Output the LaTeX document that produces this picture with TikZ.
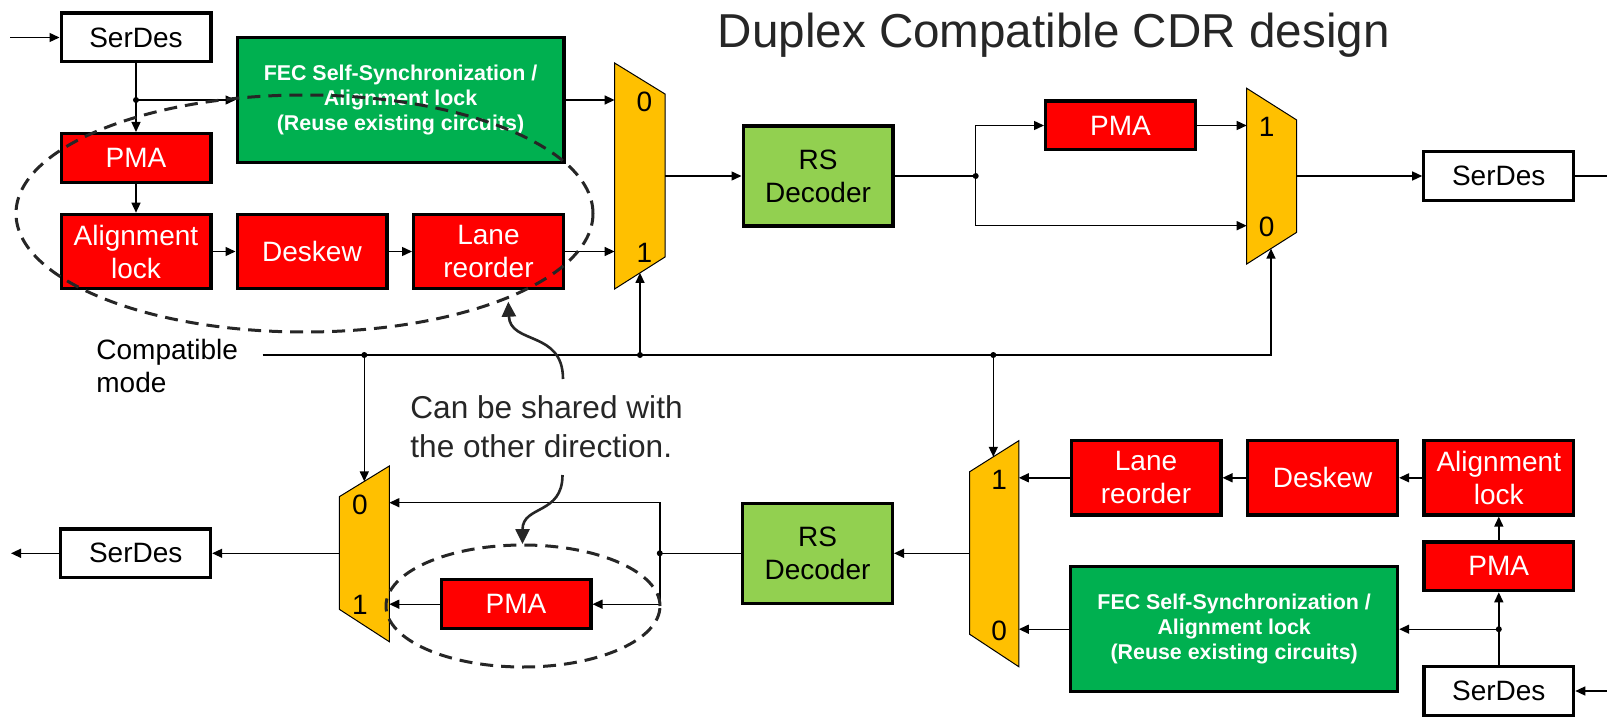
\documentclass[tikz,border=0pt]{standalone}
\usepackage{fontspec}
\setmainfont{Liberation Sans}
\usetikzlibrary{arrows.meta,calc}

\definecolor{muxyellow}{HTML}{FFC000}
\definecolor{fecgreen}{HTML}{00B050}
\definecolor{rsgreen}{HTML}{92D050}
\definecolor{pmared}{HTML}{FF0000}
\definecolor{inkgray}{HTML}{262626}

\begin{document}
\begin{tikzpicture}[x=0.5pt,y=-0.5pt,
  blk/.style={draw=black, line width=1.6pt, inner sep=0pt, align=center,
    minimum width=74.9pt, font=\fontsize{14}{16.5}\selectfont},
  lowblk/.style={minimum height=24.4pt},
  highblk/.style={minimum height=37.2pt},
  redblk/.style={blk, fill=pmared, text=white},
  serdesblk/.style={blk, lowblk, fill=white},
  rsblk/.style={blk, fill=rsgreen, minimum height=49.9pt},
  fecblk/.style={blk, fill=fecgreen, text=white, minimum width=163.4pt,
    minimum height=62.4pt, font=\fontsize{10.7}{12.5}\selectfont\bfseries},
  wire/.style={line width=0.7pt, draw=black},
  arr/.style={wire, -{Triangle[length=5pt,width=4.5pt]}},
  junc/.style={circle, fill=black, inner sep=0pt, minimum size=3pt},
  muxbody/.style={fill=muxyellow, draw=black, line width=0.5pt},
  muxlbl/.style={font=\fontsize{14}{16}\selectfont, inner sep=0pt},
  sharering/.style={draw=inkgray, line width=1.5pt, dash pattern=on 6.5pt off 4pt},
  notearrow/.style={draw=inkgray, line width=1.3pt, -{Triangle[length=7.5pt,width=7pt]}},
]
\useasboundingbox (0,0) rectangle (1607,717);

% ---------- title ----------
\node[anchor=base, inner sep=0pt, text=inkgray, font=\fontsize{23.8}{28}\selectfont]
  (title) at (1053.7,47.7) {Duplex Compatible CDR design};

% ---------- upper path (receive) ----------
\node[serdesblk] (serdes1) at (136,37.5) {SerDes};
\node[fecblk] (fec1) at (400.5,100) {FEC Self-Synchronization /\\Alignment lock\\(Reuse existing circuits)};
\node[redblk, lowblk] (pma1) at (136,158) {PMA};
\node[redblk, highblk] (align1) at (136,251.5) {Alignment\\lock};
\node[redblk, highblk] (deskew1) at (312,251.5) {Deskew};
\node[redblk, highblk] (lane1) at (488.5,251.5) {Lane\\reorder};
\node[rsblk] (rs1) at (818,176) {RS\\Decoder};
\node[redblk, lowblk] (pma2) at (1120.5,125.5) {PMA};
\node[serdesblk] (serdes2) at (1498.7,176) {SerDes};

% mux 1
\draw[muxbody] (614.6,63) -- (665,94) -- (665,257) -- (614.6,289) -- cycle;
\coordinate (m1in0) at (614.6,100);
\coordinate (m1in1) at (614.6,251.5);
\coordinate (m1out) at (665,176);
\coordinate (m1sel) at (640,272.9);
\node[muxlbl] (m1l0) at (644.5,102) {0};
\node[muxlbl] (m1l1) at (644.5,252.7) {1};

% mux 2
\draw[muxbody] (1246.7,88.3) -- (1296.7,120) -- (1296.7,232.3) -- (1246.7,264) -- cycle;
\coordinate (m2in1) at (1246.7,125.5);
\coordinate (m2in0) at (1246.7,225.7);
\coordinate (m2out) at (1296.7,176);
\coordinate (m2sel) at (1271,248.6);
\node[muxlbl] (m2l1) at (1266.7,126.5) {1};
\node[muxlbl] (m2l0) at (1266.7,226.7) {0};

% ---------- lower path (transmit) ----------
\node[serdesblk] (serdes3) at (135.7,553.3) {SerDes};
\node[redblk, lowblk] (pma3) at (516,604.2) {PMA};
\node[rsblk] (rs2) at (817.5,553.3) {RS\\Decoder};
\node[redblk, highblk] (lane2) at (1146,477.8) {Lane\\reorder};
\node[redblk, highblk] (deskew2) at (1322.6,477.8) {Deskew};
\node[redblk, highblk] (align2) at (1498.8,477.8) {Alignment\\lock};
\node[redblk, lowblk] (pma4) at (1498.8,566.3) {PMA};
\node[fecblk] (fec2) at (1234.2,629.2) {FEC Self-Synchronization /\\Alignment lock\\(Reuse existing circuits)};
\node[serdesblk] (serdes4) at (1498.8,691) {SerDes};

% mux 3
\draw[muxbody] (339.3,496.7) -- (389.3,466) -- (389.3,641.7) -- (339.3,609.3) -- cycle;
\coordinate (m3in0) at (389.3,502.7);
\coordinate (m3in1) at (389.3,604.2);
\coordinate (m3out) at (339.3,553.3);
\coordinate (m3sel) at (364.3,481.4);
\node[muxlbl] (m3l0) at (359.8,505) {0};
\node[muxlbl] (m3l1) at (359.8,605) {1};

% mux 4
\draw[muxbody] (969.7,471.7) -- (1018.8,440.7) -- (1018.8,666.7) -- (969.7,634.3) -- cycle;
\coordinate (m4in1) at (1018.8,477.8);
\coordinate (m4in0) at (1018.8,629.2);
\coordinate (m4out) at (969.7,553.3);
\coordinate (m4sel) at (993.3,456.8);
\node[muxlbl] (m4l1) at (999.2,480) {1};
\node[muxlbl] (m4l0) at (999.2,630.7) {0};

% ---------- free ends and junctions ----------
\coordinate (in1) at (10,37.5);
\coordinate (out2) at (1607,176);
\coordinate (out3) at (11,553.3);
\coordinate (in4) at (1607,691);
\coordinate (cmstart) at (262.5,355);
\node[junc] (j0) at (136,100) {};
\node[junc] (j1) at (975.7,176) {};
\node[junc] (j3) at (659.8,553.3) {};
\node[junc] (j4) at (1498.8,629.2) {};
\node[junc] (jc1) at (364.3,355) {};
\node[junc] (jc2) at (640,355) {};
\node[junc] (jc3) at (993.3,355) {};

% ---------- upper connectors ----------
\draw[arr] (in1) -- (serdes1.west);
\draw[wire] (serdes1.south) -- (j0.center);
\draw[arr] (j0.center) -- (pma1.north);
\draw[arr] (j0.center) -- (fec1.west);
\draw[arr] (pma1.south) -- (align1.north);
\draw[arr] (align1.east) -- (deskew1.west);
\draw[arr] (deskew1.east) -- (lane1.west);
\draw[arr] (fec1.east) -- (m1in0);
\draw[arr] (lane1.east) -- (m1in1);
\draw[arr] (m1out) -- (rs1.west);
\draw[wire] (rs1.east) -- (j1.center);
\draw[arr] (j1.center) |- (pma2.west);
\draw[arr] (j1.center) |- (m2in0);
\draw[arr] (pma2.east) -- (m2in1);
\draw[arr] (m2out) -- (serdes2.west);
\draw[wire] (serdes2.east) -- (out2);

% ---------- compatible-mode select ----------
\draw[arr] (cmstart) -| (m2sel);
\draw[arr] (jc2.center) -- (m1sel);
\draw[arr] (jc1.center) -- (m3sel);
\draw[arr] (jc3.center) -- (m4sel);

% ---------- lower connectors ----------
\draw[arr] (in4) -- (serdes4.east);
\draw[wire] (serdes4.north) -- (j4.center);
\draw[arr] (j4.center) -- (pma4.south);
\draw[arr] (j4.center) -- (fec2.east);
\draw[arr] (pma4.north) -- (align2.south);
\draw[arr] (align2.west) -- (deskew2.east);
\draw[arr] (deskew2.west) -- (lane2.east);
\draw[arr] (lane2.west) -- (m4in1);
\draw[arr] (fec2.west) -- (m4in0);
\draw[arr] (m4out) -- (rs2.east);
\draw[wire] (rs2.west) -- (j3.center);
\draw[arr] (j3.center) |- (m3in0);
\draw[arr] (j3.center) |- (pma3.east);
\draw[arr] (pma3.west) -- (m3in1);
\draw[arr] (m3out) -- (serdes3.east);
\draw[arr] (serdes3.west) -- (out3);

% ---------- texts ----------
\node[anchor=north west, align=left, inner sep=0pt, font=\fontsize{14}{16.4}\selectfont]
  (cmode) at (96,338.6) {Compatible\\mode};
\node[anchor=north west, align=left, inner sep=0pt, text=inkgray, font=\fontsize{15.8}{19.2}\selectfont]
  (sharenote) at (410,395.3) {Can be shared with\\the other direction.};

% ---------- shareable blocks ----------
\draw[sharering] (304.5,213.5) ellipse [x radius=144.25pt, y radius=59.25pt];
\draw[sharering] (523,606) ellipse [x radius=68.5pt, y radius=30.5pt];

\coordinate (na) at (563,379);
\coordinate (nb) at (508.3,301.7);
\coordinate (nc) at (562.5,475);
\coordinate (nd) at (522.5,544);
\draw[notearrow] (na) .. controls (563,330) and (510,345) .. (nb);
\draw[notearrow] (nc) .. controls (562.5,515) and (522.5,505) .. (nd);
\end{tikzpicture}
\end{document}
